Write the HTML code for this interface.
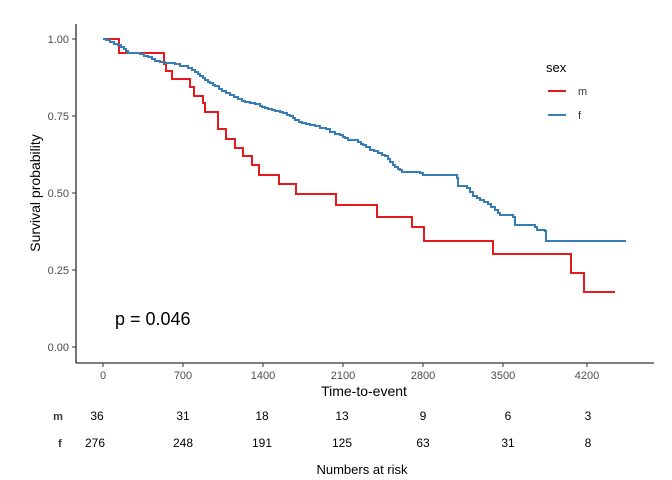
<!DOCTYPE html><html><head><style>body{margin:0;background:#fff}svg{display:block;font-family:"Liberation Sans",sans-serif}</style></head><body>
<svg width="672" height="480" xmlns="http://www.w3.org/2000/svg">
<g stroke="#000" stroke-width="1.1"><line x1="76" y1="24" x2="76" y2="363"/><line x1="76" y1="363" x2="654" y2="363"/></g>
<g stroke="#333" stroke-width="1">
<line x1="72" y1="39" x2="76" y2="39"/><line x1="72" y1="116" x2="76" y2="116"/><line x1="72" y1="193" x2="76" y2="193"/><line x1="72" y1="270" x2="76" y2="270"/><line x1="72" y1="347" x2="76" y2="347"/>
<line x1="103" y1="363" x2="103" y2="367"/><line x1="183" y1="363" x2="183" y2="367"/><line x1="263" y1="363" x2="263" y2="367"/><line x1="343" y1="363" x2="343" y2="367"/><line x1="423" y1="363" x2="423" y2="367"/><line x1="503" y1="363" x2="503" y2="367"/><line x1="587" y1="363" x2="587" y2="367"/></g>
<g font-size="11" fill="#4d4d4d" text-anchor="end"><text x="69" y="43">1.00</text><text x="69" y="120">0.75</text><text x="69" y="197">0.50</text><text x="69" y="274">0.25</text><text x="69" y="351">0.00</text></g>
<g font-size="11" fill="#4d4d4d" text-anchor="middle"><text x="103" y="379">0</text><text x="183" y="379">700</text><text x="263" y="379">1400</text><text x="343" y="379">2100</text><text x="423" y="379">2800</text><text x="503" y="379">3500</text><text x="587" y="379">4200</text></g>
<text x="364" y="396" font-size="14" text-anchor="middle">Time-to-event</text>
<text transform="translate(40,193) rotate(-90)" font-size="14" text-anchor="middle">Survival probability</text>
<text x="115" y="325" font-size="18">p = 0.046</text>
<path fill="none" stroke="#E41A1C" stroke-width="2" d="M103 39H119V53H164V64H166V71H172V79H190V87H194V96H203V103H205V112H218V129H226V139H235V148H243V156H252V165H259V175H279V184H296V194H336V205H377V217H412V227H424V241H493V254H571V273H584V292H615"/>
<path fill="none" stroke="#377EB8" stroke-width="2" d="M103 39H106V40H110V42H114V44H118V45H121V47H124V49H126V51H128V53H140V54H144V56H148V57H152V59H155V61H160V62H165V63H175V64H180V66H188V68H192V70H195V72H198V74H200V76H203V78H205V80H208V82H210V83H213V85H215V86H219V89H222V91H226V93H230V95H234V97H238V99H242V101H245V102H250V103H255V104H260V106H262V107H265V108H268V109H272V110H275V111H280V112H283V113H287V115H290V116H293V118H295V120H299V122H302V123H306V124H310V125H315V126H320V128H326V129H330V132H335V134H340V135H343V137H345V138H348V140H358V142H361V144H363V145H366V147H370V150H374V151H378V153H382V155H385V156H388V159H390V162H393V165H395V167H398V169H400V170H402V172H420V173H423V175H457V178H458V186H467V188H470V192H473V196H477V198H480V200H484V202H488V204H491V207H495V210H498V213H500V215H513V217H515V225H535V227H537V230H545V231H546V241H626"/>
<text x="546" y="72" font-size="13">sex</text>
<line x1="548" y1="91" x2="566" y2="91" stroke="#E41A1C" stroke-width="2"/><text x="578" y="95" font-size="11" fill="#333">m</text>
<line x1="548" y1="115" x2="566" y2="115" stroke="#377EB8" stroke-width="2"/><text x="578" y="119" font-size="11" fill="#333">f</text>
<g font-size="12" text-anchor="middle">
<text x="58" y="420" font-weight="bold" fill="#333" font-size="11">m</text>
<text x="97" y="420">36</text><text x="183" y="420">31</text><text x="262" y="420">18</text><text x="342" y="420">13</text><text x="423" y="420">9</text><text x="508" y="420">6</text><text x="588" y="420">3</text>
<text x="60" y="447" font-weight="bold" fill="#333" font-size="11">f</text>
<text x="95" y="447">276</text><text x="183" y="447">248</text><text x="262" y="447">191</text><text x="342" y="447">125</text><text x="423" y="447">63</text><text x="508" y="447">31</text><text x="588" y="447">8</text>
<text x="362" y="474" font-size="13">Numbers at risk</text></g>
</svg></body></html>
